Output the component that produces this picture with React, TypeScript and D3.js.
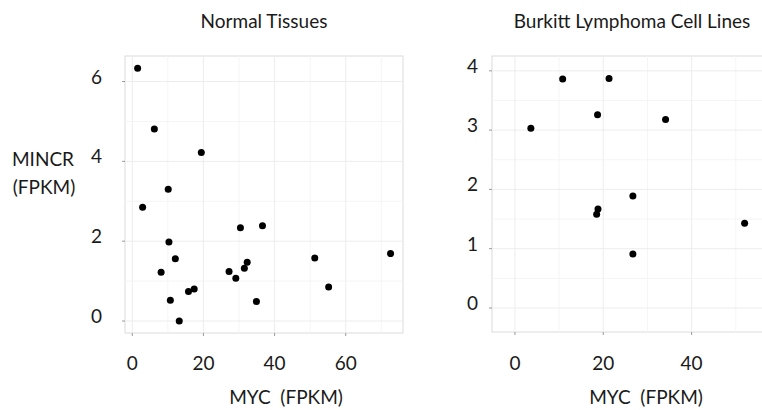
import React from 'react';
import * as d3 from 'd3';

// MYC vs MINCR expression (FPKM)
const normalMyc = [1.5, 6.2, 19.4, 10.1, 2.9, 10.3, 12.1, 8.1, 10.7, 13.2, 15.8, 17.4, 30.4, 36.6, 27.2, 29.1, 31.5, 32.3, 34.9, 51.3, 55.2, 72.6];
const normalMincr = [6.33, 4.81, 4.22, 3.3, 2.85, 1.98, 1.56, 1.22, 0.52, 0.0, 0.74, 0.8, 2.34, 2.39, 1.24, 1.07, 1.32, 1.47, 0.49, 1.58, 0.85, 1.69];

const burkittMyc = [3.6, 10.8, 21.3, 18.7, 34.1, 26.7, 18.8, 18.5, 52.0, 26.7];
const burkittMincr = [3.03, 3.86, 3.87, 3.26, 3.18, 1.89, 1.67, 1.58, 1.43, 0.91];

const normalXTicks = [0, 20, 40, 60];
const normalYTicks = [0, 2, 4, 6];
const burkittXTicks = [0, 20, 40];
const burkittYTicks = [0, 1, 2, 3, 4];

const FONT = 'Lato, "Open Sans", sans-serif';

type PanelProps = {
  title: string;
  xs: number[];
  ys: number[];
  xDomain: [number, number];
  yDomain: [number, number];
  xTicks: number[];
  yTicks: number[];
  left: number;
  right: number;
  top: number;
  bottom: number;
  titleX: number;
  xLabelX: number;
  yLabelGap: number;
};

const Panel = (p: PanelProps) => {
  const x = d3.scaleLinear().domain(p.xDomain).range([p.left, p.right]);
  const y = d3.scaleLinear().domain(p.yDomain).range([p.bottom, p.top]);

  // minor grid halfway between the major ticks
  const xStep = p.xTicks[1] - p.xTicks[0];
  const yStep = p.yTicks[1] - p.yTicks[0];
  const xMinor = d3.range(p.xTicks[0] - xStep / 2, p.xDomain[1], xStep).filter((v) => v > p.xDomain[0]);
  const yMinor = d3.range(p.yTicks[0] - yStep / 2, p.yDomain[1], yStep).filter((v) => v > p.yDomain[0]);

  return (
    <g>
      <text x={p.titleX} y={28} textAnchor="middle" fontSize={19} fill="#1a1a1a">
        {p.title}
      </text>
      <rect x={p.left} y={p.top} width={p.right - p.left} height={p.bottom - p.top} fill="#fff" stroke="#dcdcdc" />
      {xMinor.map((v) => (
        <line key={'xm' + v} x1={x(v)} x2={x(v)} y1={p.top} y2={p.bottom} stroke="#f5f5f5" />
      ))}
      {yMinor.map((v) => (
        <line key={'ym' + v} y1={y(v)} y2={y(v)} x1={p.left} x2={p.right} stroke="#f5f5f5" />
      ))}
      {p.xTicks.map((v) => (
        <g key={'x' + v}>
          <line x1={x(v)} x2={x(v)} y1={p.top} y2={p.bottom} stroke="#ededed" />
          <line x1={x(v)} x2={x(v)} y1={p.bottom} y2={p.bottom + 3} stroke="#999" />
          <text x={x(v)} y={370} textAnchor="middle" fontSize={19} fill="#1a1a1a">
            {v}
          </text>
        </g>
      ))}
      {p.yTicks.map((v) => (
        <g key={'y' + v}>
          <line y1={y(v)} y2={y(v)} x1={p.left} x2={p.right} stroke="#ededed" />
          <line y1={y(v)} y2={y(v)} x1={p.left - 3} x2={p.left} stroke="#999" />
          <text x={p.left - p.yLabelGap} y={y(v) + 2} textAnchor="end" fontSize={19} fill="#1a1a1a">
            {v}
          </text>
        </g>
      ))}
      {p.xs.map((v, i) => (
        <circle key={i} cx={x(v)} cy={y(p.ys[i])} r={3.5} fill="#000" />
      ))}
      <text x={p.xLabelX} y={404} textAnchor="middle" fontSize={19} fill="#1a1a1a" style={{ whiteSpace: 'pre' }}>
        {'MYC  (FPKM)'}
      </text>
    </g>
  );
};

export default function App() {
  return (
    <svg width={762} height={410} style={{ position: 'absolute', left: 0, top: 0, background: '#fff' }} fontFamily={FONT}>
      <Panel
        title="Normal Tissues"
        xs={normalMyc}
        ys={normalMincr}
        xDomain={[-2.05, 76.1]}
        yDomain={[-0.3, 6.64]}
        xTicks={normalXTicks}
        yTicks={normalYTicks}
        left={125}
        right={403}
        top={56}
        bottom={333}
        titleX={264}
        xLabelX={286}
        yLabelGap={23}
      />
      <text x={43} y={166} textAnchor="middle" fontSize={19} fill="#1a1a1a">MINCR</text>
      <text x={44} y={194} textAnchor="middle" fontSize={19} fill="#1a1a1a">(FPKM)</text>
      <Panel
        title="Burkitt Lymphoma Cell Lines"
        xs={burkittMyc}
        ys={burkittMincr}
        xDomain={[-5.2, 58.2]}
        yDomain={[-0.405, 4.25]}
        xTicks={burkittXTicks}
        yTicks={burkittYTicks}
        left={492}
        right={772}
        top={56}
        bottom={332}
        titleX={632}
        xLabelX={646}
        yLabelGap={14}
      />
    </svg>
  );
}
